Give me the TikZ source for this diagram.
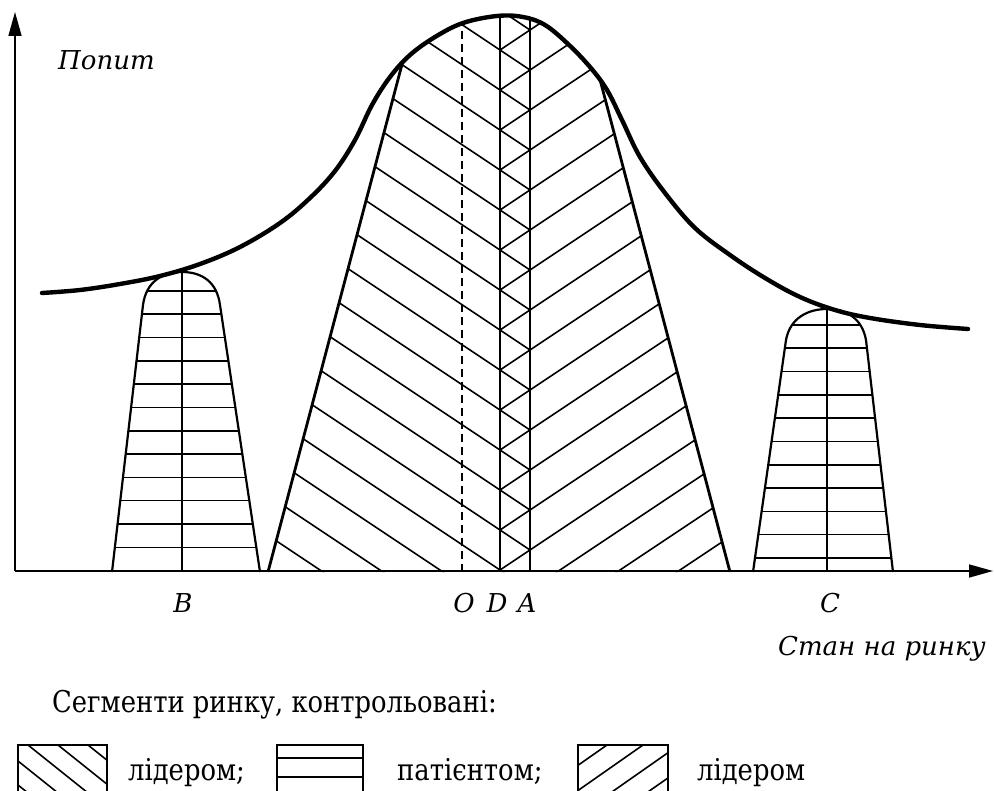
\documentclass[tikz,border=0pt]{standalone}
\usepackage{fontspec}
\setmainfont{DejaVu Serif}
\newfontfamily\legfont[FakeStretch=0.86]{DejaVu Serif}
\usetikzlibrary{arrows.meta}
\begin{document}
\begin{tikzpicture}[x=1pt,y=-1pt,
  curveline/.style={line width=4.4pt, line cap=round, line join=round},
  edgeline/.style={line width=2.8pt},
  humpline/.style={line width=2.2pt, line join=round},
  hatch/.style={line width=1.6pt},
  axisline/.style={line width=1.6pt, -{Triangle[length=24pt,width=13pt]}},
  lab/.style={font=\fontsize{26}{30}\selectfont\itshape, inner sep=0pt},
  leg/.style={font=\legfont\fontsize{30}{34}\selectfont, inner sep=0pt}]
\clip (0,0) rectangle (994,791);
% axes
\draw[axisline] (15,571) -- (15,12);
\draw[axisline] (15,571) -- (993,571);
% central region
\begin{scope}
  \clip (42,572) -- plot[smooth,tension=0.6] coordinates {(42,293) (80,290) (120,284) (160,276) (200,264) (240,247) (280,223) (310,198) (335,171) (355,140) (372,105) (390,77) (410,55) (435,37) (463,23) (497,16) (523,17) (545,25) (568,44) (590,67) (607,90) (622,120) (640,157) (665,193) (695,228) (730,255) (765,278) (800,297) (835,310) (870,318) (920,325) (968,329)} -- (968,572) -- cycle;
  \begin{scope}
    \clip (268,572) -- (419,0) -- (579,0) -- (730,572) -- cycle;
    \foreach \k in {-5,...,15} {
      \draw[hatch] (250,{570-40*\k-166.7}) -- (530,{570-40*\k+20});
      \draw[hatch] (500,{570-40*\k}) -- (750,{570-40*\k-166.7});
    }
    \draw[line width=1.3pt, dash pattern=on 8pt off 5pt] (462,572) -- (462,0);
    \draw[line width=1.8pt] (500,572) -- (500,0);
    \draw[line width=2.8pt] (530,572) -- (530,0);
  \end{scope}
  \draw[edgeline] (268,572) -- (419,0);
  \draw[edgeline] (730,572) -- (579,0);
\end{scope}
% hump B
\begin{scope}
  \clip (112,572) -- (143,305) .. controls (146,282) and (162,272) .. (182,272) .. controls (202,272) and (217,282) .. (220,305) -- (260,572) -- cycle;
  \foreach \k in {0,...,11} \draw[hatch] (100,{291+23.3*\k}) -- (270,{291+23.3*\k});
\end{scope}
\draw[humpline] (112,572) -- (143,305) .. controls (146,282) and (162,272) .. (182,272) .. controls (202,272) and (217,282) .. (220,305) -- (260,572);
\draw[hatch] (182,572) -- (182,272);
% hump C
\begin{scope}
  \clip (753,572) -- (786,340) .. controls (790,318) and (808,309) .. (827,309) .. controls (846,309) and (862,318) .. (866,340) -- (893,572) -- cycle;
  \foreach \k in {0,...,10} \draw[hatch] (740,{325+23.3*\k}) -- (900,{325+23.3*\k});
\end{scope}
\draw[humpline] (753,572) -- (786,340) .. controls (790,318) and (808,309) .. (827,309) .. controls (846,309) and (862,318) .. (866,340) -- (893,572);
\draw[hatch] (827,572) -- (827,309);
% demand curve
\draw[curveline] plot[smooth,tension=0.6] coordinates {(42,293) (80,290) (120,284) (160,276) (200,264) (240,247) (280,223) (310,198) (335,171) (355,140) (372,105) (390,77) (410,55) (435,37) (463,23) (497,16) (523,17) (545,25) (568,44) (590,67) (607,90) (622,120) (640,157) (665,193) (695,228) (730,255) (765,278) (800,297) (835,310) (870,318) (920,325) (968,329)};
% labels
\node[lab, anchor=base west] (popyt) at (58,70) {Попит};
\node[lab, anchor=base west] (stan) at (778,655) {Стан на ринку};
\node[lab, anchor=base] (B) at (183,612) {B};
\node[lab, anchor=base] (O) at (464,612) {O};
\node[lab, anchor=base] (D) at (497,612) {D};
\node[lab, anchor=base] (A) at (527,612) {A};
\node[lab, anchor=base] (C) at (830,612) {C};
% legend
\node[leg, anchor=base west] (legtitle) at (52,712) {Сегменти ринку, контрольовані:};
\begin{scope}
  \clip (18,745) rectangle (107,800);
  \foreach \k in {-3,...,2} \draw[hatch] ({58+30*\k},745) -- ({128+30*\k},801);
\end{scope}
\draw[line width=1.8pt] (18,745) rectangle (107,800);
\draw[line width=1.8pt] (277,745) rectangle (363,800);
\draw[hatch] (277,758) -- (363,758);
\draw[hatch] (277,777) -- (363,777);
\begin{scope}
  \clip (578,745) rectangle (668,800);
  \foreach \k in {0,...,4} \draw[hatch] ({607+36*\k},745) -- ({527+36*\k},801);
\end{scope}
\draw[line width=1.8pt] (578,745) rectangle (668,800);
\node[leg, anchor=base west] (leg1) at (128,780) {лідером;};
\node[leg, anchor=base west] (leg2) at (397,780) {патієнтом;};
\node[leg, anchor=base west] (leg3) at (697,780) {лідером};
\end{tikzpicture}
\end{document}
